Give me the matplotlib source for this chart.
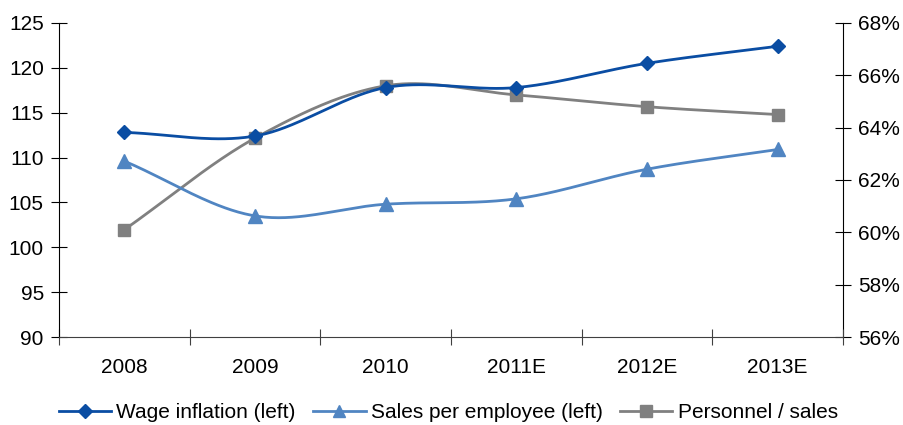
import numpy as np
import matplotlib
matplotlib.use("Agg")
import matplotlib.pyplot as plt
from matplotlib.ticker import FuncFormatter
from matplotlib.lines import Line2D

plt.rcParams['font.family'] = ['Liberation Sans', 'DejaVu Sans']

years = ["2008", "2009", "2010", "2011E", "2012E", "2013E"]
wage_inflation = [112.8, 112.4, 117.8, 117.8, 120.5, 122.4]
sales_per_employee = [109.6, 103.5, 104.8, 105.4, 108.7, 110.9]
personnel_sales = [60.1, 63.6, 65.6, 65.25, 64.8, 64.5]

C_WAGE = "#0A4DA3"
C_SALES = "#5085C2"
C_PERS = "#808080"
FS = 15


def smooth(x, y, n=40):
    """Catmull-Rom style smoothed curve through the points."""
    x = np.asarray(x, float)
    y = np.asarray(y, float)
    px = np.concatenate([[2 * x[0] - x[1]], x, [2 * x[-1] - x[-2]]])
    py = np.concatenate([[2 * y[0] - y[1]], y, [2 * y[-1] - y[-2]]])
    xs, ys = [], []
    t = np.linspace(0, 1, n)
    for i in range(1, len(px) - 2):
        p0, p1, p2, p3 = (np.array([px[j], py[j]]) for j in range(i - 1, i + 3))
        b1 = p1 + (p2 - p0) / 6
        b2 = p2 - (p3 - p1) / 6
        pts = ((1 - t) ** 3)[:, None] * p1 + (3 * (1 - t) ** 2 * t)[:, None] * b1 \
            + (3 * (1 - t) * t ** 2)[:, None] * b2 + (t ** 3)[:, None] * p2
        xs.append(pts[:, 0])
        ys.append(pts[:, 1])
    return np.concatenate(xs), np.concatenate(ys)


fig = plt.figure(figsize=(9.04, 4.25), dpi=100)
ax = fig.add_axes([0.0653, 0.207, 0.8672, 0.739])
ax2 = ax.twinx()

x = np.arange(len(years))

sx, sy = smooth(x, personnel_sales)
ax2.plot(sx, sy, color=C_PERS, lw=2, zorder=2)
ax2.plot(x, personnel_sales, ls="none", marker="s", ms=9, color=C_PERS, zorder=3)

sx, sy = smooth(x, sales_per_employee)
ax.plot(sx, sy, color=C_SALES, lw=2, zorder=2)
ax.plot(x, sales_per_employee, ls="none", marker="^", ms=10, color=C_SALES, zorder=3)

sx, sy = smooth(x, wage_inflation)
ax.plot(sx, sy, color=C_WAGE, lw=2, zorder=2)
ax.plot(x, wage_inflation, ls="none", marker="D", ms=7, color=C_WAGE, zorder=3)

ax.set_zorder(ax2.get_zorder() + 1)
ax.patch.set_visible(False)

ax.set_xlim(-0.5, len(years) - 0.5)
ax.set_ylim(90, 125)
ax.set_yticks(np.arange(90, 126, 5))
ax2.set_ylim(56, 68)
ax2.set_yticks(np.arange(56, 69, 2))
ax2.yaxis.set_major_formatter(FuncFormatter(lambda v, p: f"{v:.0f}%"))

ax.set_xticks(np.arange(len(years) + 1) - 0.5, minor=False)
ax.set_xticklabels([])
ax.set_xticks(x, minor=True)
ax.set_xticklabels(years, minor=True)
ax.tick_params(axis="x", which="major", direction="inout", length=12, color="#404040")
ax.tick_params(axis="x", which="minor", length=0, pad=15, labelsize=FS)
ax.tick_params(axis="y", direction="inout", length=12, labelsize=FS, pad=5)
ax2.tick_params(axis="y", direction="inout", length=12, labelsize=FS, pad=5)

for a in (ax, ax2):
    a.spines["top"].set_visible(False)
ax.spines["bottom"].set_color("#404040")
ax.spines["right"].set_visible(False)
ax2.spines["left"].set_visible(False)
ax2.spines["bottom"].set_visible(False)

handles = [
    Line2D([], [], color=C_WAGE, lw=2, marker="D", ms=7),
    Line2D([], [], color=C_SALES, lw=2, marker="^", ms=9),
    Line2D([], [], color=C_PERS, lw=2, marker="s", ms=8),
]
labels = ["Wage inflation (left)", "Sales per employee (left)", "Personnel / sales"]
fig.legend(handles, labels, loc="lower center", bbox_to_anchor=(0.496, -0.037), ncol=3,
           frameon=False, fontsize=FS, handlelength=2.5, handletextpad=0.25,
           columnspacing=0.85)

fig.savefig("out.png", dpi=100)
